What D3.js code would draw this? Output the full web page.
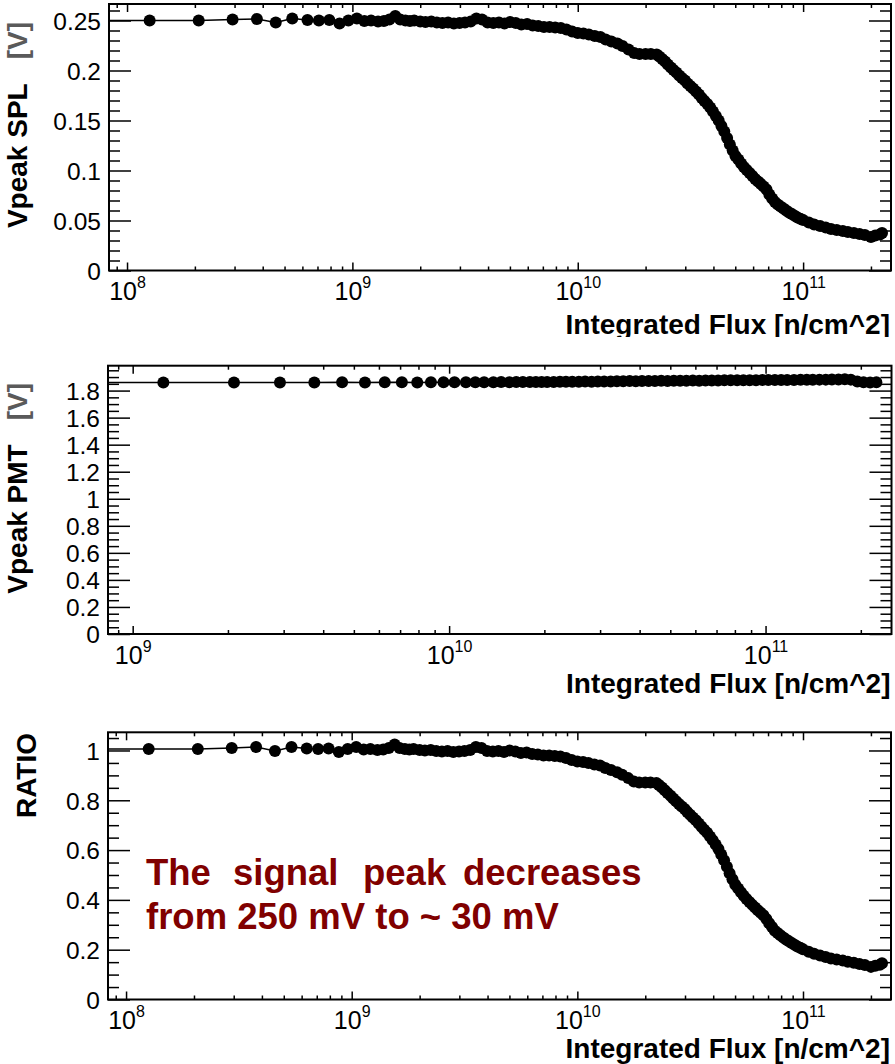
<!DOCTYPE html>
<html>
<head>
<meta charset="utf-8">
<script src="https://cdn.jsdelivr.net/npm/d3@7"></script>
<style>
  body { margin: 0; background: #fff; }
  text { font-family: "Liberation Sans", Arial, Helvetica, sans-serif; }
</style>
</head>
<body>
<div id="chart"></div>
<script>
// Integrated flux [n/cm^2] of the SPL points (also used for the ratio)
var fluxSPL = [4.3e7, 1.26e8, 2.08e8, 2.94e8, 3.77e8, 4.57e8, 5.41e8, 6.32e8, 7.10e8, 7.90e8, 8.77e8, 9.60e8,
  1.047e9, 1.13e9, 1.21e9, 1.30e9, 1.38e9, 1.46e9, 1.55e9, 1.63e9, 1.72e9, 1.80e9, 1.88e9,
  2.00e9, 2.11e9, 2.24e9, 2.37e9, 2.51e9, 2.66e9, 2.82e9, 2.99e9, 3.16e9, 3.35e9, 3.55e9, 3.76e9, 3.98e9, 4.22e9,
  4.47e9, 4.73e9, 5.01e9, 5.31e9, 5.62e9, 5.96e9, 6.31e9, 6.68e9, 7.08e9, 7.50e9, 7.94e9, 8.41e9, 8.91e9, 9.44e9,
  1.00e10, 1.06e10, 1.12e10, 1.19e10, 1.26e10, 1.33e10, 1.41e10, 1.50e10, 1.58e10, 1.68e10, 1.78e10, 1.88e10,
  2.00e10, 2.11e10, 2.24e10, 2.37e10, 2.51e10, 2.66e10, 2.82e10, 2.99e10, 3.16e10, 3.35e10, 3.55e10, 3.76e10,
  3.98e10, 4.22e10, 4.47e10, 4.73e10, 5.01e10, 5.31e10, 5.62e10, 5.96e10, 6.31e10, 6.68e10, 7.08e10, 7.50e10,
  7.94e10, 8.41e10, 8.91e10, 9.44e10,
  1.00e11, 1.06e11, 1.12e11, 1.19e11, 1.26e11, 1.33e11, 1.41e11, 1.50e11, 1.58e11, 1.68e11, 1.78e11, 1.88e11,
  2.00e11, 2.09e11, 2.19e11, 2.24e11];

// Vpeak of the SPL [V]
var vpeakSPL = [0.250, 0.250, 0.250, 0.251, 0.2515, 0.248, 0.252, 0.2505, 0.250, 0.2505, 0.247, 0.250,
  0.252, 0.2495, 0.250, 0.249, 0.2495, 0.251, 0.2545, 0.251, 0.250, 0.2495, 0.250,
  0.249, 0.2485, 0.249, 0.248, 0.2475, 0.248, 0.247, 0.2475, 0.248, 0.249, 0.252, 0.251, 0.248, 0.2475,
  0.248, 0.247, 0.2485, 0.2475, 0.246, 0.2465, 0.245, 0.2445, 0.2435, 0.2435, 0.243, 0.2425, 0.241, 0.239,
  0.2375, 0.237, 0.236, 0.2345, 0.2335, 0.231, 0.229, 0.227, 0.2245, 0.221, 0.2175, 0.2165,
  0.2165, 0.2165, 0.216, 0.2115, 0.206, 0.2005, 0.195, 0.190, 0.1845, 0.179, 0.1725, 0.1665,
  0.159, 0.150, 0.139, 0.126, 0.1145, 0.107, 0.1005, 0.0945, 0.089, 0.084, 0.076, 0.0685,
  0.064, 0.060, 0.0565, 0.053,
  0.0505, 0.048, 0.046, 0.0445, 0.043, 0.0415, 0.0405, 0.0395, 0.0385, 0.0375, 0.0365, 0.0355,
  0.0335, 0.035, 0.036, 0.0375];

// SPL / PMT ratio, normalised to the first point
var ratio = [1.006, 1.006, 1.006, 1.010, 1.014, 0.998, 1.014, 1.008, 1.006, 1.008, 0.994, 1.006,
  1.014, 1.004, 1.006, 1.002, 1.004, 1.010, 1.024, 1.010, 1.006, 1.004, 1.006,
  1.002, 1.000, 1.002, 0.998, 0.996, 0.998, 0.994, 0.996, 0.998, 1.002, 1.014, 1.010, 0.998, 0.996,
  0.998, 0.994, 1.000, 0.996, 0.990, 0.992, 0.986, 0.984, 0.980, 0.980, 0.978, 0.976, 0.970, 0.962,
  0.956, 0.954, 0.950, 0.944, 0.940, 0.930, 0.922, 0.913, 0.903, 0.889, 0.875, 0.871,
  0.871, 0.871, 0.869, 0.851, 0.829, 0.807, 0.785, 0.765, 0.742, 0.720, 0.694, 0.670,
  0.640, 0.604, 0.559, 0.507, 0.461, 0.431, 0.404, 0.380, 0.358, 0.338, 0.306, 0.276,
  0.258, 0.241, 0.227, 0.213,
  0.202, 0.192, 0.184, 0.177, 0.171, 0.165, 0.161, 0.157, 0.152, 0.148, 0.143, 0.139,
  0.131, 0.136, 0.140, 0.146];

// extra SPL / ratio points read on the steep part of the curve
var fluxSPLSteep = [2.30e10, 2.44e10, 2.59e10, 2.74e10, 2.90e10, 3.07e10, 3.25e10, 3.45e10, 3.65e10, 3.87e10,
  4.10e10, 4.34e10, 4.60e10, 4.87e10, 5.16e10, 5.46e10, 5.79e10, 6.13e10, 6.49e10, 6.88e10,
  7.29e10, 7.72e10, 8.18e10, 8.66e10, 9.17e10, 9.72e10];
var vpeakSPLSteep = [0.214, 0.209, 0.203, 0.198, 0.1925, 0.187, 0.182, 0.176, 0.1695, 0.163,
  0.1545, 0.1445, 0.1325, 0.120, 0.111, 0.1035, 0.0975, 0.0915, 0.0865, 0.081,
  0.072, 0.066, 0.062, 0.058, 0.0548, 0.0518];
var ratioSteep = [0.861, 0.840, 0.818, 0.796, 0.775, 0.753, 0.731, 0.707, 0.682, 0.655,
  0.622, 0.582, 0.533, 0.483, 0.446, 0.417, 0.392, 0.369, 0.348, 0.323,
  0.291, 0.267, 0.249, 0.234, 0.220, 0.208];

// Integrated flux [n/cm^2] of the PMT points
var fluxPMT = [4.2e8, 1.25e9, 2.09e9, 2.92e9, 3.75e9, 4.59e9, 5.42e9, 6.26e9, 7.09e9, 7.93e9, 8.76e9, 9.60e9,
  1.04e10, 1.13e10, 1.21e10, 1.29e10, 1.38e10, 1.46e10, 1.55e10, 1.63e10, 1.71e10, 1.80e10, 1.88e10, 1.96e10,
  2.04e10, 2.14e10, 2.24e10, 2.34e10, 2.45e10, 2.57e10, 2.69e10, 2.82e10, 2.95e10, 3.09e10, 3.24e10, 3.39e10,
  3.55e10, 3.72e10, 3.89e10, 4.07e10, 4.27e10, 4.47e10, 4.68e10, 4.90e10, 5.13e10, 5.37e10, 5.62e10, 5.89e10,
  6.17e10, 6.46e10, 6.76e10, 7.08e10, 7.41e10, 7.76e10, 8.13e10, 8.51e10, 8.91e10, 9.33e10, 9.77e10,
  1.02e11, 1.07e11, 1.12e11, 1.17e11, 1.23e11, 1.29e11, 1.35e11, 1.41e11, 1.48e11, 1.55e11, 1.62e11, 1.70e11,
  1.78e11, 1.86e11, 1.95e11, 2.04e11, 2.14e11, 2.24e11];

// Vpeak of the PMT [V]
var vpeakPMT = [1.860, 1.860, 1.860, 1.860, 1.860, 1.861, 1.860, 1.861, 1.861, 1.860, 1.861, 1.861,
  1.862, 1.861, 1.862, 1.862, 1.862, 1.863, 1.862, 1.863, 1.863, 1.864, 1.863, 1.864,
  1.864, 1.864, 1.865, 1.865, 1.866, 1.866, 1.867, 1.866, 1.867, 1.868, 1.868, 1.869,
  1.869, 1.870, 1.869, 1.870, 1.871, 1.871, 1.872, 1.871, 1.872, 1.873, 1.873, 1.874,
  1.873, 1.874, 1.875, 1.875, 1.876, 1.876, 1.876, 1.877, 1.877, 1.877, 1.878,
  1.878, 1.878, 1.879, 1.879, 1.879, 1.880, 1.880, 1.880, 1.881, 1.881, 1.882, 1.882,
  1.883, 1.881, 1.868, 1.861, 1.860, 1.861];

var xTitle = "Integrated Flux [n/cm^2]";
var noteWords = ["The", "signal", "peak", "decreases"];
var noteLine2 = "from 250 mV to ~ 30 mV";

var W = 895, H = 1064;
var svg = d3.select("#chart").append("svg")
    .attr("width", W)
    .attr("height", H)
    .style("display", "block");

svg.append("rect").attr("width", W).attr("height", H).attr("fill", "#fff");

function byFlux(a, b) { return a[0] - b[0]; }
var splPts = d3.zip(fluxSPL, vpeakSPL).concat(d3.zip(fluxSPLSteep, vpeakSPLSteep)).sort(byFlux);
var ratioPts = d3.zip(fluxSPL, ratio).concat(d3.zip(fluxSPLSteep, ratioSteep)).sort(byFlux);
var pmtPts = d3.zip(fluxPMT, vpeakPMT);

var panels = [
  { id: "spl", left: 109, right: 891, top: 4, bottom: 270.5, xLog: [7.92, 11.39],
    yMax: 0.2665, yStep: 0.05, yMinor: 0.01, digits: 2,
    pts: splPts, title: "Vpeak SPL", unit: "[V]",
    titleX: 26.5, titleEnd: 22, xTitleY: 334, clipY: 337 },
  { id: "pmt", left: 108, right: 891.5, top: 365.7, bottom: 634, xLog: [8.922, 11.398],
    yMax: 1.984, yStep: 0.2, yMinor: 0.05, digits: 1,
    pts: pmtPts, title: "Vpeak PMT", unit: "[V]",
    titleX: 27, titleEnd: 383, xTitleY: 693, clipY: 700 },
  { id: "ratio", left: 108, right: 891, top: 732.3, bottom: 999.5, xLog: [7.92, 11.39],
    yMax: 1.073, yStep: 0.2, yMinor: 0.05, digits: 1,
    pts: ratioPts, title: "RATIO", unit: null,
    titleX: 36, titleEnd: 733, xTitleY: 1057.5, clipY: 1064 }
];

panels.forEach(drawPanel);

// annotation in the ratio panel
var note = svg.append("g")
    .attr("fill", "#800000")
    .attr("font-weight", "bold")
    .attr("font-size", "36.5px");
var wordX = [146, 233, 363, 463];
noteWords.forEach(function(w, i) {
  note.append("text").attr("x", wordX[i]).attr("y", 885).text(w);
});
note.append("text").attr("x", 146).attr("y", 929).style("white-space", "pre").text(noteLine2);

function drawPanel(p) {
  var x = d3.scaleLog()
      .domain([Math.pow(10, p.xLog[0]), Math.pow(10, p.xLog[1])])
      .range([p.left, p.right]);
  var y = d3.scaleLinear()
      .domain([0, p.yMax])
      .range([p.bottom, p.top]);

  var g = svg.append("g").attr("class", "panel-" + p.id);

  // clip for the data inside the frame
  var clipId = "clip-" + p.id;
  g.append("clipPath").attr("id", clipId)
    .append("rect")
      .attr("x", p.left).attr("y", p.top)
      .attr("width", p.right - p.left).attr("height", p.bottom - p.top);
  var outerId = "outer-" + p.id;
  g.append("clipPath").attr("id", outerId)
    .append("rect").attr("x", 0).attr("y", 0).attr("width", W).attr("height", p.clipY);

  // x ticks: decades (major) and 2..9 (minor), bottom and top
  var allX = x.ticks();
  var decades = allX.filter(function(d) { return Math.abs(Math.log10(d) - Math.round(Math.log10(d))) < 1e-9; });
  var minorsX = allX.filter(function(d) { return decades.indexOf(d) < 0; });

  var xb = g.append("g").attr("transform", "translate(0," + p.bottom + ")")
      .call(d3.axisBottom(x).tickValues(decades).tickSize(-8).tickFormat(""));
  g.append("g").attr("transform", "translate(0," + p.bottom + ")")
      .call(d3.axisBottom(x).tickValues(minorsX).tickSize(-4).tickFormat(""));
  g.append("g").attr("transform", "translate(0," + p.top + ")")
      .call(d3.axisTop(x).tickValues(decades).tickSize(-8).tickFormat(""));
  g.append("g").attr("transform", "translate(0," + p.top + ")")
      .call(d3.axisTop(x).tickValues(minorsX).tickSize(-4).tickFormat(""));

  // decade labels as 10 with a superscript
  xb.selectAll(".tick text")
      .attr("y", 29.5).attr("dy", null)
      .attr("fill", "#000")
      .attr("font-size", "25px")
      .each(function(d) {
        var t = d3.select(this);
        t.append("tspan").text("10");
        t.append("tspan").attr("dy", -12).attr("font-size", "16px").text(Math.round(Math.log10(d)));
      });

  // y ticks, left and right
  var nMajor = Math.floor(p.yMax / p.yStep + 1e-9);
  var majorsY = d3.range(nMajor + 1).map(function(i) { return +(i * p.yStep).toFixed(3); });
  var nMinor = Math.floor(p.yMax / p.yMinor + 1e-9);
  var minorsY = d3.range(nMinor + 1).map(function(i) { return +(i * p.yMinor).toFixed(3); })
      .filter(function(v) { return majorsY.indexOf(v) < 0; });

  var yl = g.append("g").attr("transform", "translate(" + p.left + ",0)")
      .call(d3.axisLeft(y).tickValues(majorsY).tickSize(-22)
        .tickFormat(function(d) { return String(+d.toFixed(p.digits)); }));
  g.append("g").attr("transform", "translate(" + p.left + ",0)")
      .call(d3.axisLeft(y).tickValues(minorsY).tickSize(-11).tickFormat(""));
  g.append("g").attr("transform", "translate(" + p.right + ",0)")
      .call(d3.axisRight(y).tickValues(majorsY).tickSize(-22).tickFormat(""));
  g.append("g").attr("transform", "translate(" + p.right + ",0)")
      .call(d3.axisRight(y).tickValues(minorsY).tickSize(-11).tickFormat(""));

  yl.selectAll(".tick text")
      .attr("x", -8)
      .attr("dy", "0.36em")
      .attr("fill", "#000")
      .attr("font-size", "24.5px");

  g.selectAll(".domain").remove();
  g.selectAll(".tick line").attr("stroke", "#000").attr("stroke-width", 1.5);

  // data: thin line through the points, then the markers
  var data = g.append("g").attr("clip-path", "url(#" + clipId + ")");
  data.append("path")
      .datum(p.pts)
      .attr("fill", "none")
      .attr("stroke", "#000")
      .attr("stroke-width", 1.6)
      .attr("d", d3.line().x(function(d) { return x(d[0]); }).y(function(d) { return y(d[1]); }));
  data.selectAll("circle")
      .data(p.pts)
      .enter()
      .append("circle")
      .attr("cx", function(d) { return x(d[0]); })
      .attr("cy", function(d) { return y(d[1]); })
      .attr("r", 6)
      .attr("fill", "#000");

  // frame
  g.append("rect")
      .attr("x", p.left).attr("y", p.top)
      .attr("width", p.right - p.left).attr("height", p.bottom - p.top)
      .attr("fill", "none")
      .attr("stroke", "#000")
      .attr("stroke-width", 2);

  // x axis title
  g.append("text")
      .attr("clip-path", "url(#" + outerId + ")")
      .attr("x", p.right - 1)
      .attr("y", p.xTitleY)
      .attr("text-anchor", "end")
      .attr("font-weight", "bold")
      .attr("font-size", "28px")
      .text(xTitle);

  // y axis title, rotated
  var yt = g.append("text")
      .attr("transform", "translate(" + p.titleX + "," + p.titleEnd + ") rotate(-90)")
      .attr("text-anchor", "end")
      .attr("font-weight", "bold")
      .attr("font-size", "28px");
  yt.append("tspan").attr("fill", "#000").text(p.title);
  if (p.unit) {
    yt.append("tspan").attr("dx", 24).attr("fill", "#5a5a5a").text(p.unit);
  }
}
</script>
</body>
</html>
